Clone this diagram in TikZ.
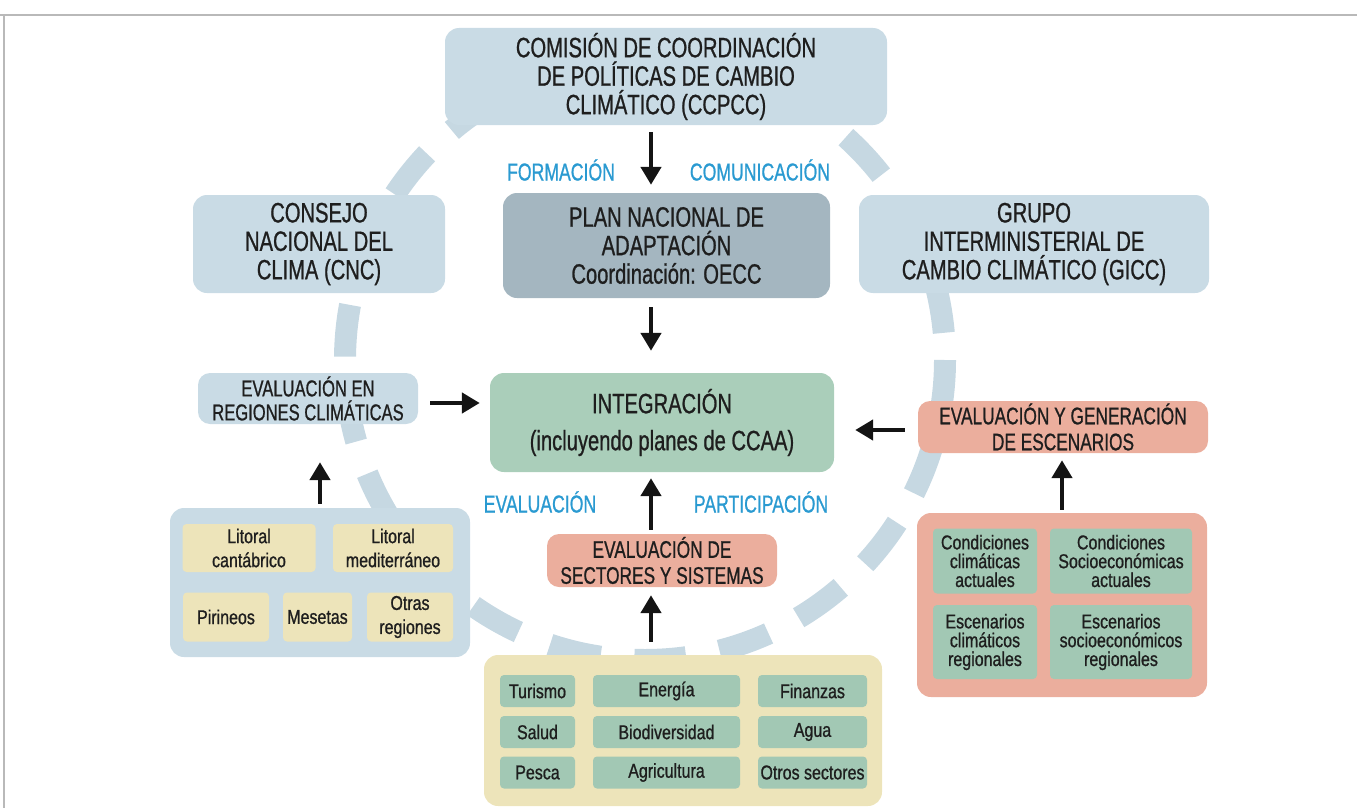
\documentclass[tikz,border=0pt]{standalone}
\usepackage{fontspec}
\setmainfont{Liberation Sans}[FakeStretch=0.72, FakeBold=0.8]
\newfontfamily\innerfont{Liberation Sans}[FakeStretch=0.8, FakeBold=0.9]
\usetikzlibrary{arrows.meta}
\definecolor{lblue}{HTML}{C9DBE5}
\definecolor{ringc}{HTML}{C6D8E2}
\definecolor{dblue}{HTML}{A4B6C0}
\definecolor{lgreen}{HTML}{AACEBA}
\definecolor{igreen}{HTML}{A2C8B4}
\definecolor{salmon}{HTML}{EBAE9D}
\definecolor{lyellow}{HTML}{EDE4BA}
\definecolor{cyanT}{HTML}{2A9AD1}
\definecolor{txt}{HTML}{1E1E1E}
\tikzset{
  bigbox/.style={rounded corners=14pt, inner sep=0pt, align=center, text=txt,
    font=\fontsize{28}{28.5}\selectfont},
  bluebox/.style={bigbox, fill=lblue},
  midbox/.style={rounded corners=12pt, inner sep=0pt, align=center, text=txt,
    font=\fontsize{24}{26}\selectfont},
  inbox/.style={rounded corners=4pt, inner sep=0pt, align=center, text=txt,
    font=\innerfont\fontsize{20}{24}\selectfont},
  ybox/.style={inbox, fill=lyellow},
  gbox/.style={inbox, fill=igreen},
  tight/.style={font=\innerfont\fontsize{20}{18.8}\selectfont},
  lbl/.style={text=cyanT, font=\fontsize{24.5}{24}\selectfont, inner sep=0pt},
  arr/.style={line width=4.5pt, draw=black!92, -{Triangle[width=20pt,length=18pt]}},
  ring/.style={draw=ringc, line width=22pt, dash pattern=on 52pt off 34pt}
}
\begin{document}
\begin{tikzpicture}[x=1pt,y=-1pt]
\useasboundingbox (0,0) rectangle (1357,808);
\draw[gray!55, line width=1.5pt] (0,15) -- (1357,15);
\draw[gray!55, line width=1.5pt] (4,15) -- (4,808);

% dashed ring
\draw[ring] (645,360) circle (300);

% top
\node[bluebox, minimum width=442pt, minimum height=97pt] (comision) at (666,76.5)
  {COMISIÓN DE COORDINACIÓN\\DE POLÍTICAS DE CAMBIO\\CLIMÁTICO (CCPCC)};
\node[bluebox, minimum width=252pt, minimum height=98pt] (consejo) at (319,244)
  {CONSEJO\\NACIONAL DEL\\CLIMA (CNC)};
\node[bigbox, fill=dblue, minimum width=327pt, minimum height=105pt] (plan) at (666.5,245.5)
  {PLAN NACIONAL DE\\ADAPTACIÓN\\Coordinación: OECC};
\node[bluebox, minimum width=350pt, minimum height=98pt] (grupo) at (1034,244)
  {GRUPO\\INTERMINISTERIAL DE\\CAMBIO CLIMÁTICO (GICC)};
\node[bigbox, fill=lgreen, minimum width=344pt, minimum height=99pt,
  font=\fontsize{28}{37}\selectfont] (integ) at (662,422.5)
  {INTEGRACIÓN\\(incluyendo planes de CCAA)};
\node[midbox, fill=lblue, minimum width=220pt, minimum height=51pt,
  font=\fontsize{23}{24}\selectfont] (evreg) at (308,398.5)
  {EVALUACIÓN EN\\REGIONES CLIMÁTICAS};
\node[midbox, fill=salmon, minimum width=290pt, minimum height=52pt] (evesc) at (1063,427)
  {EVALUACIÓN Y GENERACIÓN\\DE ESCENARIOS};
\node[midbox, fill=salmon, minimum width=230pt, minimum height=53pt] (evsec) at (662,560.5)
  {EVALUACIÓN DE\\SECTORES Y SISTEMAS};

% labels
\node[lbl] (formacion) at (561,170) {FORMACIÓN};
\node[lbl] (comunicacion) at (760,170) {COMUNICACIÓN};
\node[lbl] (evaluacion) at (540,502) {EVALUACIÓN};
\node[lbl] (participacion) at (761,502) {PARTICIPACIÓN};

% regions group
\node[fill=lblue, rounded corners=14pt, minimum width=300pt, minimum height=149pt, inner sep=0pt] (regbox) at (320,582.5) {};
\node[ybox, minimum width=133pt, minimum height=48pt] (litcan) at (249,548) {Litoral\\cantábrico};
\node[ybox, minimum width=120pt, minimum height=48pt] (litmed) at (393,548) {Litoral\\mediterráneo};
\node[ybox, minimum width=86pt, minimum height=49pt] (pir) at (226,617) {Pirineos};
\node[ybox, minimum width=69pt, minimum height=49pt] (mes) at (317.5,617) {Mesetas};
\node[ybox, minimum width=86pt, minimum height=49pt] (otras) at (410,617) {Otras\\regiones};

% escenarios group
\node[fill=salmon, rounded corners=14pt, minimum width=290pt, minimum height=184pt, inner sep=0pt] (escbox) at (1062,605) {};
\node[gbox, tight, minimum width=104pt, minimum height=65pt] (ccact) at (985,561) {Condiciones\\climáticas\\actuales};
\node[gbox, tight, minimum width=142pt, minimum height=65pt] (csact) at (1121,561) {Condiciones\\Socioeconómicas\\actuales};
\node[gbox, tight, minimum width=104pt, minimum height=74pt] (ecreg) at (985,642) {Escenarios\\climáticos\\regionales};
\node[gbox, tight, minimum width=142pt, minimum height=74pt] (esreg) at (1121,642) {Escenarios\\socioeconómicos\\regionales};

% sectors group
\node[fill=lyellow, rounded corners=14pt, minimum width=398pt, minimum height=151pt, inner sep=0pt] (secbox) at (683,730.5) {};
\node[gbox, minimum width=75pt, minimum height=32pt] (tur) at (537.5,691) {Turismo};
\node[gbox, minimum width=147pt, minimum height=32pt] (ene) at (666.5,691) {Energía};
\node[gbox, minimum width=109pt, minimum height=32pt] (fin) at (812.5,691) {Finanzas};
\node[gbox, minimum width=75pt, minimum height=32pt] (sal) at (537.5,732) {Salud};
\node[gbox, minimum width=147pt, minimum height=32pt] (bio) at (666.5,732) {Biodiversidad};
\node[gbox, minimum width=109pt, minimum height=32pt] (agu) at (812.5,732) {Agua};
\node[gbox, minimum width=75pt, minimum height=32pt] (pes) at (537.5,772.5) {Pesca};
\node[gbox, minimum width=147pt, minimum height=32pt] (agr) at (666.5,772.5) {Agricultura};
\node[gbox, minimum width=109pt, minimum height=32pt] (otr) at (812.5,772.5) {Otros sectores};

% arrows
\coordinate (ax) at (651,0);
\coordinate (rx) at (320,0);
\coordinate (ex) at (1062,0);
\coordinate (ly) at (0,403);
\coordinate (ry) at (0,430);
\draw[arr, shorten <=7pt, shorten >=8pt] (comision.south -| ax) -- (plan.north -| ax);
\draw[arr, shorten <=9pt, shorten >=22pt] (plan.south -| ax) -- (integ.north -| ax);
\draw[arr, shorten <=12pt, shorten >=10pt] (evreg.east |- ly) -- (integ.west |- ly);
\draw[arr, shorten <=13pt, shorten >=21pt] (evesc.west |- ry) -- (integ.east |- ry);
\draw[arr, shorten <=4pt, shorten >=38pt] (regbox.north -| rx) -- (evreg.south -| rx);
\draw[arr, shorten <=4pt, shorten >=6pt] (evsec.north -| ax) -- (integ.south -| ax);
\draw[arr, shorten <=13pt, shorten >=8pt] (secbox.north -| ax) -- (evsec.south -| ax);
\draw[arr, shorten <=3pt, shorten >=7pt] (escbox.north -| ex) -- (evesc.south -| ex);
\end{tikzpicture}
\end{document}
